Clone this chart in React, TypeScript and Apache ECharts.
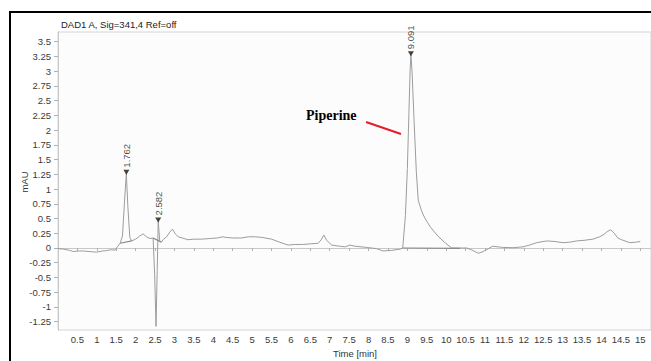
import React, { useEffect, useRef } from "react";
import * as echarts from "echarts";

const times = [
  0.0, 0.15, 0.3, 0.4, 0.55, 0.65, 0.8, 1.0, 1.15, 1.25, 1.35, 1.47, 1.53, 1.6, 1.66, 1.71, 1.76, 1.8, 1.85, 1.9,
  2.0, 2.1, 2.19, 2.28, 2.37, 2.45, 2.49, 2.525, 2.555, 2.582, 2.62, 2.66, 2.72, 2.8, 2.88, 2.95, 3.02, 3.1, 3.2,
  3.35, 3.5, 3.7, 3.9, 4.1, 4.25, 4.32, 4.5, 4.73, 4.9, 5.07, 5.25, 5.5, 5.7, 5.93, 6.1, 6.3, 6.5, 6.7, 6.78, 6.85,
  6.92, 7.05, 7.25, 7.4, 7.52, 7.65, 7.95, 8.2, 8.37, 8.6, 8.81, 8.88, 8.95, 9.0, 9.04, 9.07, 9.091, 9.12, 9.17,
  9.23, 9.28, 9.35, 9.41, 9.5, 9.6, 9.7, 9.79, 9.95, 10.14, 10.35, 10.53, 10.65, 10.83, 10.95, 11.2, 11.45, 11.72,
  11.98, 12.15, 12.33, 12.59, 12.8, 13.01, 13.2, 13.36, 13.55, 13.78, 13.95, 14.04, 14.15, 14.24, 14.33, 14.42,
  14.52, 14.73, 14.9, 15.0,
];
const absorbance = [
  -0.01, -0.02, -0.04, -0.06, -0.05, -0.05, -0.06, -0.07, -0.05, -0.045, -0.03, -0.035, 0.02, 0.08, 0.2, 0.75, 1.27,
  0.7, 0.18, 0.12, 0.15, 0.2, 0.24, 0.19, 0.16, 0.17, -0.45, -1.33, -0.4, 0.46, 0.12, 0.1, 0.15, 0.19, 0.27, 0.32,
  0.24, 0.19, 0.17, 0.14, 0.15, 0.15, 0.16, 0.17, 0.19, 0.18, 0.17, 0.17, 0.19, 0.19, 0.18, 0.15, 0.1, 0.05, 0.06,
  0.06, 0.07, 0.08, 0.14, 0.22, 0.13, 0.05, 0.03, 0.02, 0.05, 0.03, 0.01, -0.01, -0.05, -0.04, -0.02, 0.0, 0.55,
  1.35, 2.3, 3.0, 3.28, 3.0, 2.2, 1.3, 0.81, 0.66, 0.56, 0.45, 0.35, 0.27, 0.2, 0.1, 0.0, 0.0, 0.0, -0.03, -0.09,
  -0.06, 0.03, 0.01, 0.005, 0.02, 0.05, 0.09, 0.12, 0.11, 0.09, 0.1, 0.12, 0.13, 0.15, 0.19, 0.22, 0.28, 0.31, 0.25,
  0.17, 0.14, 0.09, 0.1, 0.11,
];

// integration baselines: [startTime, startValue, endTime, endValue]
const baselines = [
  [1.6, 0.08, 1.9, 0.12],
  [2.45, 0.17, 2.66, 0.1],
  [8.88, 0.0, 10.35, -0.005],
];

const peakTimes = [1.762, 2.582, 9.091];
const peakHeights = [1.27, 0.46, 3.28];
const peakLabels = ["1.762", "2.582", "9.091"];

const xTicks = [0.5, 1, 1.5, 2, 2.5, 3, 3.5, 4, 4.5, 5, 5.5, 6, 6.5, 7, 7.5, 8, 8.5, 9, 9.5, 10, 10.5, 11, 11.5, 12, 12.5, 13, 13.5, 14, 14.5, 15];
const yTicks = [-1.25, -1, -0.75, -0.5, -0.25, 0, 0.25, 0.5, 0.75, 1, 1.25, 1.5, 1.75, 2, 2.25, 2.5, 2.75, 3, 3.25, 3.5];

const FONT = "'Liberation Sans Narrow', 'Liberation Sans', Arial, sans-serif";

export default function App() {
  const ref = useRef<HTMLDivElement>(null);
  useEffect(() => {
    if (!ref.current) return;
    const chart = echarts.init(ref.current, null, { renderer: "svg" });
    const traceData = times.map((t, i) => [t, absorbance[i]]);
    const baseSeries = baselines.map((b) => ({
      type: "line",
      data: [
        [b[0], b[1]],
        [b[2], b[3]],
      ],
      showSymbol: false,
      silent: true,
      lineStyle: { color: "#8a8a8a", width: 1.2 },
      z: 3,
    }));
    chart.setOption({
      animation: false,
      backgroundColor: "#ffffff",
      grid: {
        left: 58,
        top: 32,
        right: 0,
        bottom: 31,
        show: true,
        backgroundColor: "#fcfcfd",
        borderColor: "#d4d4dc",
        borderWidth: 1,
      },
      xAxis: {
        type: "value",
        min: 0,
        max: 15.276,
        axisLine: { show: true, lineStyle: { color: "#c8c8c8" } },
        axisTick: { show: true, length: 3, lineStyle: { color: "#b0b0b0" }, customValues: xTicks },
        axisLabel: {
          customValues: xTicks,
          fontSize: 9.5,
          fontFamily: FONT,
          color: "#3a3a3a",
          margin: 4,
        },
        splitLine: { show: false },
      },
      yAxis: {
        type: "value",
        min: -1.391,
        max: 3.664,
        axisLine: { show: true, lineStyle: { color: "#c8c8c8" } },
        axisTick: { show: true, length: 4, lineStyle: { color: "#b0b0b0" }, customValues: yTicks },
        axisLabel: {
          customValues: yTicks,
          fontSize: 9.5,
          fontFamily: FONT,
          color: "#3a3a3a",
          margin: 7,
        },
        splitLine: { show: false },
      },
      series: [
        {
          type: "line",
          data: traceData,
          showSymbol: false,
          silent: true,
          lineStyle: { color: "#9c9c9c", width: 1 },
          z: 2,
        },
        ...baseSeries,
        {
          type: "scatter",
          data: peakTimes.map((t, i) => [t, peakHeights[i]]),
          symbol: "triangle",
          symbolRotate: 180,
          symbolSize: [6, 5],
          symbolOffset: [0, -1],
          itemStyle: { color: "#111111" },
          z: 5,
          label: {
            show: true,
            formatter: (p: any) => peakLabels[p.dataIndex],
            position: "top",
            rotate: 90,
            align: "left",
            verticalAlign: "middle",
            distance: 2,
            fontSize: 9.5,
            fontFamily: FONT,
            color: "#222222",
          },
        },
      ],
      graphic: [
        { type: "rect", shape: { x: 9, y: 11, width: 642, height: 2 }, style: { fill: "#000000" }, silent: true },
        { type: "rect", shape: { x: 9, y: 11, width: 2, height: 350 }, style: { fill: "#000000" }, silent: true },
        {
          type: "text",
          x: 61,
          y: 24,
          style: {
            text: "DAD1 A, Sig=341,4 Ref=off",
            fontSize: 9.5,
            fontFamily: FONT,
            fill: "#222222",
            verticalAlign: "middle",
            align: "left",
          },
        },
        {
          type: "text",
          x: 24,
          y: 182,
          rotation: Math.PI / 2,
          style: {
            text: "mAU",
            fontSize: 9.5,
            fontFamily: FONT,
            fill: "#333333",
            verticalAlign: "middle",
            align: "center",
          },
        },
        {
          type: "text",
          x: 355,
          y: 353,
          style: {
            text: "Time [min]",
            fontSize: 9.5,
            fontFamily: FONT,
            fill: "#333333",
            verticalAlign: "middle",
            align: "center",
          },
        },
        {
          type: "text",
          x: 306,
          y: 115,
          style: {
            text: "Piperine",
            fontSize: 14,
            fontWeight: "bold",
            fontFamily: "'Liberation Serif', 'Times New Roman', serif",
            fill: "#000000",
            verticalAlign: "middle",
            align: "left",
          },
        },
        {
          type: "line",
          shape: { x1: 366, y1: 122, x2: 401, y2: 134 },
          style: { stroke: "#e41e2a", lineWidth: 2 },
        },
      ],
    });
    return () => chart.dispose();
  }, []);
  return (
    <div
      ref={ref}
      style={{ position: "fixed", left: 0, top: 0, width: 651, height: 361, background: "#ffffff" }}
    />
  );
}
